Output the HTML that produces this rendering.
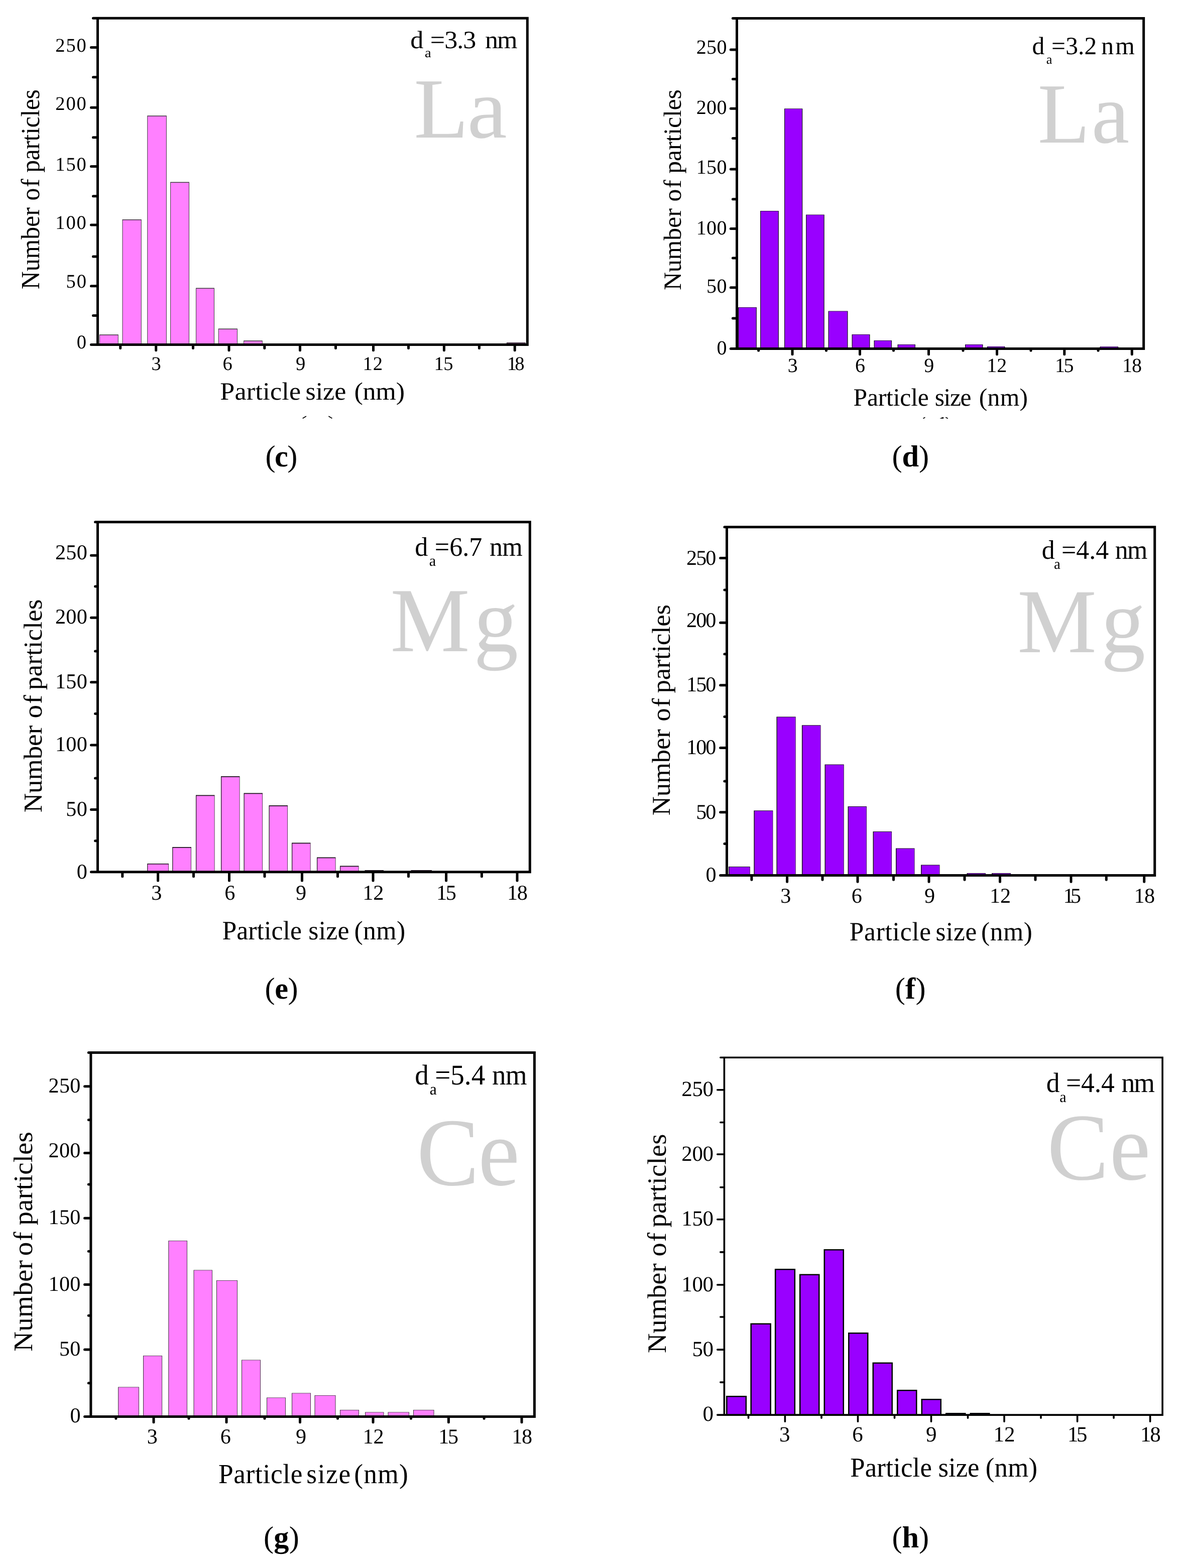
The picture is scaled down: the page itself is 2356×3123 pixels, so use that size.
<!DOCTYPE html>
<html lang="en">
<head>
<meta charset="utf-8">
<title>Particle size distributions (c)-(h)</title>
<style>
html,body{margin:0;padding:0;background:#fff;}
body{width:2356px;height:3123px;overflow:hidden;position:relative;}
svg{position:absolute;left:0;top:0;display:block;font-family:"Liberation Serif", "DejaVu Serif", serif;text-rendering:geometricPrecision;}
.frame{fill:none;stroke:#000;stroke-linejoin:miter;}
.ticks{fill:none;stroke:#000;stroke-linecap:round;stroke-linejoin:miter;}
.ghost{fill:none;stroke:#000;stroke-linecap:butt;}
text{fill:#000;white-space:pre;}
.elem{fill:#d0d0d0;}
.b{font-weight:bold;}
</style>
</head>
<body>
<svg width="2356" height="3123" viewBox="0 0 2356 3123">
<rect x="0" y="0" width="2356" height="3123" fill="#fff"/>
<g id="chart-c">
<text class="elem" transform="translate(824.34 273.75) scale(1.0460 1)" font-size="170.6" letter-spacing="-2.8">La</text>
<path class="bar-edge" fill="#403840" d="M197.9 666.2H235.8V686.4H197.9ZM243.5 437H281.8V686.4H243.5ZM293.2 230.25H331.9V686.4H293.2ZM339.1 362.5H377V686.4H339.1ZM390 573.5H427V686.4H390ZM434.7 654.4H473V686.4H434.7ZM485.1 678.2H522.8V686.4H485.1ZM1008.8 682.1H1046.6V686.4H1008.8Z"/>
<path class="bar-fill" fill="#ff80ff" d="M198.9 667.8H234.8V686.4H198.9ZM244.5 438.6H280.8V686.4H244.5ZM294.2 231.85H330.9V686.4H294.2ZM340.1 364.1H376V686.4H340.1ZM391 575.1H426V686.4H391ZM435.7 656H472V686.4H435.7ZM486.1 679.8H521.8V686.4H486.1ZM1009.8 683.7H1045.6V686.4H1009.8Z"/>
<path class="ticks" d="M185.5 36.3H1050.3V686.4H181.5" stroke-width="5"/>
<path class="frame" d="M194.5 36.3V686.4" stroke-width="5"/>
<path class="ticks" d="M181.5 569.8H192M181.5 448H192M181.5 331.5H192M181.5 214.3H192M181.5 94.5H192M185.5 628.5H192M185.5 511.1H192M185.5 390.75H192M185.5 273.8H192M185.5 153.7H192M310.7 688.9V697.8M456 688.9V697.8M597.5 688.9V697.8M743.5 688.9V697.8M884.4 688.9V697.8M1025.2 688.9V697.8M239.7 688.9V693.6M384.5 688.9V693.6M526.8 688.9V693.6M668.5 688.9V693.6M813.5 688.9V693.6M954.4 688.9V693.6" stroke-width="5"/>
<text x="152.65" y="693.7" font-size="38.6">0</text>
<text x="131.5" y="573.4" font-size="38.6" letter-spacing="1.85">50</text>
<text x="110.35" y="456.4" font-size="38.6" letter-spacing="1.85">100</text>
<text x="110.35" y="339.6" font-size="38.6" letter-spacing="1.85">150</text>
<text x="110.35" y="219.3" font-size="38.6" letter-spacing="1.85">200</text>
<text x="110.35" y="102.6" font-size="38.6" letter-spacing="1.85">250</text>
<text x="301.56" y="736.5" font-size="38.6">3</text>
<text x="443.51" y="736.5" font-size="38.6">6</text>
<text x="588.99" y="736.5" font-size="38.6">9</text>
<text x="722.62" y="736.5" font-size="38.6" letter-spacing="0.9">12</text>
<text x="864.62" y="736.5" font-size="38.6" letter-spacing="-0.68">15</text>
<text x="1009.82" y="736.5" font-size="38.6" letter-spacing="-3.77">18</text>
<text transform="scale(1.0460 1)" y="795.8" font-size="49.8"><tspan x="418.9" letter-spacing="0.26">Particle</tspan> <tspan x="581.66" letter-spacing="-0.03">size</tspan> <tspan x="674.37" letter-spacing="-0.21">(nm)</tspan></text>
<text transform="translate(78.2 0) scale(1.0460 1) rotate(-90)" y="0" font-size="49.8"><tspan x="-576.17" letter-spacing="-0.06">Number</tspan> <tspan x="-399.57" letter-spacing="2">of</tspan> <tspan x="-343.75" letter-spacing="-0.37">particles</tspan></text>
<text transform="scale(1.0460 1)" y="95.8" font-size="49.8"><tspan x="781.24" y="95.8">d</tspan><tspan x="808.7" y="113.6" font-size="27.3">a</tspan><tspan x="819.02" y="95.8" letter-spacing="-0.88">=3.3</tspan> <tspan x="923.45" y="95.8" letter-spacing="-1.81">nm</tspan></text>
</g>
<g id="chart-d">
<text class="elem" transform="translate(2066.83 283.75) scale(0.9950 1)" font-size="170.6" letter-spacing="3.15">La</text>
<path class="bar-edge" fill="#141018" d="M1470.1 612H1506.9V694.6H1470.1ZM1514.1 420H1550.9V694.6H1514.1ZM1562 216.25H1598.3V694.6H1562ZM1605.1 427.5H1641.75V694.6H1605.1ZM1649.5 619.5H1688.5V694.6H1649.5ZM1696.5 666H1732.5V694.6H1696.5ZM1740.5 678H1776V694.6H1740.5ZM1787.5 686H1823V694.6H1787.5ZM1922 686H1957.5V694.6H1922ZM1966 690H2001.5V694.6H1966ZM2190.4 690.2H2227.2V694.6H2190.4Z"/>
<path class="bar-fill" fill="#9900ff" d="M1471.3 612.8H1505.7V694.6H1471.3ZM1515.3 420.8H1549.7V694.6H1515.3ZM1563.2 217.05H1597.1V694.6H1563.2ZM1606.3 428.3H1640.55V694.6H1606.3ZM1650.7 620.3H1687.3V694.6H1650.7ZM1697.7 666.8H1731.3V694.6H1697.7ZM1741.7 678.8H1774.8V694.6H1741.7ZM1788.7 686.8H1821.8V694.6H1788.7ZM1923.2 686.8H1956.3V694.6H1923.2ZM1967.2 690.8H2000.3V694.6H1967.2ZM2191.6 691H2226V694.6H2191.6Z"/>
<path class="ticks" d="M1459.4 36.4H2277.65V694.6H1455.3" stroke-width="5"/>
<path class="frame" d="M1467.5 36.4V694.6" stroke-width="5"/>
<path class="ticks" d="M1455.3 572.8H1465M1455.3 455.4H1465M1455.3 337H1465M1455.3 216.3H1465M1455.3 98.9H1465M1459.4 634H1465M1459.4 514.1H1465M1459.4 396.7H1465M1459.4 275.4H1465M1459.4 157.5H1465M1578.05 697.1V705.8M1712.5 697.1V705.8M1849.5 697.1V705.8M1985.5 697.1V705.8M2119.8 697.1V705.8M2254.3 697.1V705.8M1510.65 697.1V698.2M1645.5 697.1V698.2M1779.5 697.1V698.2M1918 697.1V698.2M2053 697.1V698.2M2187.1 697.1V698.2" stroke-width="5"/>
<text x="1427.4" y="705.7" font-size="40">0</text>
<text x="1407.05" y="583.3" font-size="40" letter-spacing="0.35">50</text>
<text x="1386.7" y="466.9" font-size="40" letter-spacing="0.35">100</text>
<text x="1386.7" y="345.6" font-size="40" letter-spacing="0.35">150</text>
<text x="1386.7" y="227.2" font-size="40" letter-spacing="0.35">200</text>
<text x="1386.7" y="106.6" font-size="40" letter-spacing="0.35">250</text>
<text x="1568.85" y="741.1" font-size="40">3</text>
<text x="1703.05" y="741.1" font-size="40">6</text>
<text x="1840.15" y="741.1" font-size="40">9</text>
<text x="1965.35" y="741.1" font-size="40">12</text>
<text x="2100.9" y="741.1" font-size="40" letter-spacing="-2.3">15</text>
<text x="2235.1" y="741.1" font-size="40" letter-spacing="-1.2">18</text>
<text transform="scale(0.9950 1)" y="807.8" font-size="49.8"><tspan x="1708.08" letter-spacing="-0.16">Particle</tspan> <tspan x="1871.07" letter-spacing="-1.39">size</tspan> <tspan x="1959.49" letter-spacing="0.35">(nm)</tspan></text>
<text transform="translate(1356.2 0) scale(0.9950 1) rotate(-90)" y="0" font-size="49.8"><tspan x="-578.12" letter-spacing="-0.07">Number</tspan> <tspan x="-401.57" letter-spacing="2">of</tspan> <tspan x="-345.75" letter-spacing="-0.12">particles</tspan></text>
<text transform="scale(0.9950 1)" y="107.6" font-size="49.8"><tspan x="2065.79" y="107.6">d</tspan><tspan x="2094.15" y="126.8" font-size="26.5">a</tspan><tspan x="2104.65" y="107.6" letter-spacing="0.09">=3.2</tspan> <tspan x="2204.21" y="107.6" letter-spacing="3.27">nm</tspan></text>
</g>
<g id="chart-e">
<text class="elem" transform="translate(777.61 1297) scale(0.9750 1)" font-size="182.4" letter-spacing="7.69">Mg</text>
<path class="bar-edge" fill="#1c141c" d="M293.2 1719.9H336V1736.8H293.2ZM343.2 1687H381V1736.8H343.2ZM390 1583.5H427.5V1736.8H390ZM440 1546H477.5V1736.8H440ZM485.5 1579.5H523V1736.8H485.5ZM535.5 1604H573V1736.8H535.5ZM581 1678.5H618.5V1736.8H581ZM631 1707.5H668.5V1736.8H631ZM677 1724.5H714.5V1736.8H677ZM726.5 1733H764V1736.8H726.5ZM818.5 1733H860V1736.8H818.5Z"/>
<path class="bar-fill" fill="#ff80ff" d="M294.4 1721.6H335.3V1736.8H294.4ZM344.4 1688.7H380.3V1736.8H344.4ZM391.2 1585.2H426.8V1736.8H391.2ZM441.2 1547.7H476.8V1736.8H441.2ZM486.7 1581.2H522.3V1736.8H486.7ZM536.7 1605.7H572.3V1736.8H536.7ZM582.2 1680.2H617.8V1736.8H582.2ZM632.2 1709.2H667.8V1736.8H632.2ZM678.2 1726.2H713.8V1736.8H678.2ZM727.7 1734.7H763.3V1736.8H727.7ZM819.7 1734.7H859.3V1736.8H819.7Z"/>
<path class="ticks" d="M189.6 1039.65H1055.3V1736.8H181.5" stroke-width="5"/>
<path class="frame" d="M194.5 1039.65V1736.8" stroke-width="5"/>
<path class="ticks" d="M181.5 1612.5H192M181.5 1484H192M181.5 1358.8H192M181.5 1230.3H192M181.5 1106.35H192M189.6 1674.8H192M189.6 1550.1H192M189.6 1421.6H192M189.6 1296.9H192M189.6 1168H192M314.6 1739.3V1754M456.5 1739.3V1754M601.5 1739.3V1754M743 1739.3V1754M888.6 1739.3V1754M1030 1739.3V1754M243.8 1739.3V1745.8M385.5 1739.3V1745.8M527 1739.3V1745.8M672.5 1739.3V1745.8M813.5 1739.3V1745.8M959.4 1739.3V1745.8" stroke-width="5"/>
<text x="152.64" y="1750.2" font-size="42.3">0</text>
<text x="131.29" y="1624.6" font-size="42.3" letter-spacing="0.2">50</text>
<text x="109.94" y="1495.7" font-size="42.3" letter-spacing="0.2">100</text>
<text x="109.94" y="1370.5" font-size="42.3" letter-spacing="0.2">150</text>
<text x="109.94" y="1242" font-size="42.3" letter-spacing="0.2">200</text>
<text x="109.94" y="1114" font-size="42.3" letter-spacing="0.2">250</text>
<text x="301.17" y="1792.1" font-size="42.3">3</text>
<text x="447.16" y="1792.1" font-size="42.3">6</text>
<text x="589.08" y="1792.1" font-size="42.3">9</text>
<text x="722.16" y="1792.1" font-size="42.3">12</text>
<text x="868.9" y="1792.1" font-size="42.3" letter-spacing="-2.31">15</text>
<text x="1010.05" y="1792.1" font-size="42.3" letter-spacing="-1.41">18</text>
<text transform="scale(0.9750 1)" y="1871.1" font-size="53.1"><tspan x="453.82" letter-spacing="0.05">Particle</tspan> <tspan x="629.98" letter-spacing="0.3">size</tspan> <tspan x="723.49" letter-spacing="0.42">(nm)</tspan></text>
<text transform="translate(82.55 0) scale(0.9750 1) rotate(-90)" y="0" font-size="53.1"><tspan x="-1618.16" letter-spacing="-0.12">Number</tspan> <tspan x="-1430.49" letter-spacing="2">of</tspan> <tspan x="-1374.2" letter-spacing="0.09">particles</tspan></text>
<text transform="scale(0.9750 1)" y="1106.6" font-size="53.4"><tspan x="847.36" y="1106.6">d</tspan><tspan x="876.56" y="1127.4" font-size="31">a</tspan><tspan x="888" y="1106.6" letter-spacing="0.05">=6.7</tspan> <tspan x="1000.13" y="1106.6" letter-spacing="-0.99">nm</tspan></text>
</g>
<g id="chart-f">
<text class="elem" transform="translate(2026.13 1298.75) scale(0.9740 1)" font-size="182" letter-spacing="9">Mg</text>
<path class="bar-edge" fill="#1a141e" d="M1451 1726.1H1493.8V1743.55H1451ZM1501.3 1614.25H1539.4V1743.55H1501.3ZM1546.4 1427.5H1584.7V1743.55H1546.4ZM1596.9 1444.25H1634.5V1743.55H1596.9ZM1642.5 1522.5H1680.75V1743.55H1642.5ZM1688.5 1606H1726V1743.55H1688.5ZM1738.5 1656H1776V1743.55H1738.5ZM1784 1689.5H1821.5V1743.55H1784ZM1834 1722.5H1871.5V1743.55H1834ZM1925.5 1739H1963V1743.55H1925.5ZM1975 1739H2013V1743.55H1975Z"/>
<path class="bar-fill" fill="#9900ff" d="M1452.5 1727H1493.1V1743.55H1452.5ZM1502.8 1615.15H1538.7V1743.55H1502.8ZM1547.9 1428.4H1584V1743.55H1547.9ZM1598.4 1445.15H1633.8V1743.55H1598.4ZM1644 1523.4H1680.05V1743.55H1644ZM1690 1606.9H1725.3V1743.55H1690ZM1740 1656.9H1775.3V1743.55H1740ZM1785.5 1690.4H1820.8V1743.55H1785.5ZM1835.5 1723.4H1870.8V1743.55H1835.5ZM1927 1739.9H1962.3V1743.55H1927ZM1976.5 1739.9H2012.3V1743.55H1976.5Z"/>
<path class="ticks" d="M1442.9 1049.65H2299.7V1743.55H1434.6" stroke-width="5"/>
<path class="frame" d="M1447.5 1049.65V1743.55" stroke-width="5"/>
<path class="ticks" d="M1434.6 1617.7H1445M1434.6 1489.4H1445M1434.6 1364.7H1445M1434.6 1240.3H1445M1434.6 1111.6H1445M1442.9 1680.6H1445M1442.9 1556H1445M1442.9 1427.5H1445M1442.9 1302.7H1445M1442.9 1175H1445M1567.6 1746.05V1756.35M1708 1746.05V1756.35M1850 1746.05V1756.35M1991.5 1746.05V1756.35M2133 1746.05V1756.35M2278.7 1746.05V1756.35M1496.9 1746.05V1752.2M1638 1746.05V1752.2M1779.5 1746.05V1752.2M1921 1746.05V1752.2M2062 1746.05V1752.2M2203.3 1746.05V1752.2" stroke-width="5"/>
<text x="1405.38" y="1756.4" font-size="42.2">0</text>
<text x="1386.18" y="1630.8" font-size="42.2" letter-spacing="-1.9">50</text>
<text x="1366.98" y="1502.3" font-size="42.2" letter-spacing="-1.9">100</text>
<text x="1366.98" y="1377.1" font-size="42.2" letter-spacing="-1.9">150</text>
<text x="1366.98" y="1249.3" font-size="42.2" letter-spacing="-1.9">200</text>
<text x="1366.98" y="1124.5" font-size="42.2" letter-spacing="-1.9">250</text>
<text x="1554.29" y="1798" font-size="42.2">3</text>
<text x="1695.69" y="1798" font-size="42.2">6</text>
<text x="1841.11" y="1798" font-size="42.2">9</text>
<text x="1970.96" y="1798" font-size="42.2">12</text>
<text x="2117.41" y="1798" font-size="42.2" letter-spacing="-6.42">15</text>
<text x="2258.51" y="1798" font-size="42.2" letter-spacing="-0.62">18</text>
<text transform="scale(0.9740 1)" y="1872.8" font-size="52.7"><tspan x="1736.85" letter-spacing="0.84">Particle</tspan> <tspan x="1913.19" letter-spacing="0.7">size</tspan> <tspan x="2006.28" letter-spacing="0.7">(nm)</tspan></text>
<text transform="translate(1334.4 0) scale(0.9740 1) rotate(-90)" y="0" font-size="52.7"><tspan x="-1624.35" letter-spacing="-0.08">Number</tspan> <tspan x="-1436.68" letter-spacing="2">of</tspan> <tspan x="-1380.39" letter-spacing="-0.27">particles</tspan></text>
<text transform="scale(0.9740 1)" y="1112.7" font-size="53.2"><tspan x="2130.07" y="1112.7">d</tspan><tspan x="2155.12" y="1133.1" font-size="29.6">a</tspan><tspan x="2170.44" y="1112.7" letter-spacing="0.08">=4.4</tspan> <tspan x="2279.91" y="1112.7" letter-spacing="-1.7">nm</tspan></text>
</g>
<g id="chart-g">
<text class="elem" transform="translate(830.05 2359.6) scale(0.9700 1)" font-size="192.1" letter-spacing="-2.14">Ce</text>
<path class="bar-edge" fill="#383038" d="M235.1 2762.5H276.95V2821.45H235.1ZM285 2700H323.1V2821.45H285ZM335.3 2471H373V2821.45H335.3ZM385.5 2529.5H423V2821.45H385.5ZM431 2550H473V2821.45H431ZM481 2708.5H519V2821.45H481ZM531 2783.5H569V2821.45H531ZM581 2774.5H619V2821.45H581ZM626.5 2779H668.5V2821.45H626.5ZM677 2808H715V2821.45H677ZM727 2812.5H764.5V2821.45H727ZM772.5 2812.5H815V2821.45H772.5ZM823 2808H864.5V2821.45H823Z"/>
<path class="bar-fill" fill="#ff80ff" d="M236.1 2763.3H276.05V2821.45H236.1ZM286 2700.8H322.2V2821.45H286ZM336.3 2471.8H372.1V2821.45H336.3ZM386.5 2530.3H422.1V2821.45H386.5ZM432 2550.8H472.1V2821.45H432ZM482 2709.3H518.1V2821.45H482ZM532 2784.3H568.1V2821.45H532ZM582 2775.3H618.1V2821.45H582ZM627.5 2779.8H667.6V2821.45H627.5ZM678 2808.8H714.1V2821.45H678ZM728 2813.3H763.6V2821.45H728ZM773.5 2813.3H814.1V2821.45H773.5ZM824 2808.8H863.6V2821.45H824Z"/>
<path class="ticks" d="M176.35 2096.6H1064.4V2821.45H168.6" stroke-width="5"/>
<path class="frame" d="M180.9 2096.6V2821.45" stroke-width="5"/>
<path class="ticks" d="M168.6 2688.1H178.4M168.6 2558.6H178.4M168.6 2426.2H178.4M168.6 2296.4H178.4M168.6 2163.65H178.4M176.35 2754.7H178.4M176.35 2620.2H178.4M176.35 2492.2H178.4M176.35 2358.9H178.4M176.35 2230.4H178.4M306 2823.95V2832.85M451 2823.95V2832.85M597.5 2823.95V2832.85M743 2823.95V2832.85M893.4 2823.95V2832.85M1039 2823.95V2832.85M230.9 2823.95V2825.25M376 2823.95V2825.25M527 2823.95V2825.25M672.5 2823.95V2825.25M818.5 2823.95V2825.25M964.1 2823.95V2825.25" stroke-width="5"/>
<text x="139.38" y="2833.1" font-size="42.2">0</text>
<text x="117.95" y="2699.7" font-size="42.2" letter-spacing="0.33">50</text>
<text x="96.52" y="2571.2" font-size="42.2" letter-spacing="0.33">100</text>
<text x="96.52" y="2437.5" font-size="42.2" letter-spacing="0.33">150</text>
<text x="96.52" y="2304.7" font-size="42.2" letter-spacing="0.33">200</text>
<text x="96.52" y="2175.8" font-size="42.2" letter-spacing="0.33">250</text>
<text x="292.69" y="2875.2" font-size="42.2">3</text>
<text x="438.69" y="2875.2" font-size="42.2">6</text>
<text x="589.11" y="2875.2" font-size="42.2">9</text>
<text x="722.46" y="2875.2" font-size="42.2">12</text>
<text x="873.21" y="2875.2" font-size="42.2" letter-spacing="-2.22">15</text>
<text x="1019.21" y="2875.2" font-size="42.2" letter-spacing="-1.33">18</text>
<text transform="scale(0.9700 1)" y="2953.5" font-size="55"><tspan x="448.38" letter-spacing="0.68">Particle</tspan> <tspan x="629.24" letter-spacing="1.66">size</tspan> <tspan x="727.15" letter-spacing="1.31">(nm)</tspan></text>
<text transform="translate(64.45 0) scale(0.9700 1) rotate(-90)" y="0" font-size="55"><tspan x="-2691.81" letter-spacing="0.35">Number</tspan> <tspan x="-2501.36" letter-spacing="2">of</tspan> <tspan x="-2440.52">particles</tspan></text>
<text transform="scale(0.9700 1)" y="2159.85" font-size="56.8"><tspan x="851.83" y="2159.85">d</tspan><tspan x="882.26" y="2180.3" font-size="32.5">a</tspan><tspan x="892.93" y="2159.85" letter-spacing="0.06">=5.4</tspan> <tspan x="1010.37" y="2159.85" letter-spacing="-0.95">nm</tspan></text>
</g>
<g id="chart-h">
<text class="elem" transform="translate(2085.4 2349.3) scale(0.9670 1)" font-size="190" letter-spacing="1.94">Ce</text>
<path class="bar-edge" fill="#000" d="M1446 2780H1487.1V2818.1H1446ZM1494.4 2635.5H1535.9V2818.1H1494.4ZM1542.9 2527H1584.1V2818.1H1542.9ZM1591.9 2537.5H1632.5V2818.1H1591.9ZM1640.5 2488H1681V2818.1H1640.5ZM1689 2654H1729.5V2818.1H1689ZM1737.5 2713.5H1778V2818.1H1737.5ZM1786 2768H1826.5V2818.1H1786ZM1834.5 2786H1875V2818.1H1834.5ZM1883 2814H1923.5V2818.1H1883ZM1931.5 2814H1971.5V2818.1H1931.5Z"/>
<path class="bar-fill" fill="#9900ff" d="M1448.6 2782.5H1484.6V2818.1H1448.6ZM1497 2638H1533.4V2818.1H1497ZM1545.5 2529.5H1581.6V2818.1H1545.5ZM1594.5 2540H1630V2818.1H1594.5ZM1643.1 2490.5H1678.5V2818.1H1643.1ZM1691.6 2656.5H1727V2818.1H1691.6ZM1740.1 2716H1775.5V2818.1H1740.1ZM1788.6 2770.5H1824V2818.1H1788.6ZM1837.1 2788.5H1872.5V2818.1H1837.1ZM1885.6 2816.5H1921V2818.1H1885.6ZM1934.1 2816.5H1969V2818.1H1934.1Z"/>
<path class="ticks" d="M1434.8 2106.3H2315.1V2818.1H1428.75" stroke-width="3.6"/>
<path class="frame" d="M1442.4 2106.3V2818.1" stroke-width="3.6"/>
<path class="ticks" d="M1428.75 2688.1H1440.6M1428.75 2559H1440.6M1428.75 2428.8H1440.6M1428.75 2299H1440.6M1428.75 2170.8H1440.6M1434.8 2753.1H1440.6M1434.8 2623H1440.6M1434.8 2493.9H1440.6M1434.8 2364.8H1440.6M1434.8 2235.5H1440.6M1563.4 2819.9V2831.15M1708.5 2819.9V2831.15M1854.5 2819.9V2831.15M2000 2819.9V2831.15M2145.6 2819.9V2831.15M2290.6 2819.9V2831.15M1490.5 2819.9V2824.2M1636 2819.9V2824.2M1781.5 2819.9V2824.2M1927.5 2819.9V2824.2M2073 2819.9V2824.2M2218 2819.9V2824.2" stroke-width="3.6"/>
<text x="1399.51" y="2830" font-size="43">0</text>
<text x="1378.41" y="2700.8" font-size="43" letter-spacing="-0.4">50</text>
<text x="1357.31" y="2571.6" font-size="43" letter-spacing="-0.4">100</text>
<text x="1357.31" y="2441.4" font-size="43" letter-spacing="-0.4">150</text>
<text x="1357.31" y="2312.3" font-size="43" letter-spacing="-0.4">200</text>
<text x="1357.31" y="2182.8" font-size="43" letter-spacing="-0.4">250</text>
<text x="1551.99" y="2870.85" font-size="43">3</text>
<text x="1697.23" y="2870.85" font-size="43">6</text>
<text x="1843.91" y="2870.85" font-size="43">9</text>
<text x="1978.55" y="2870.85" font-size="43">12</text>
<text x="2126.06" y="2870.85" font-size="43" letter-spacing="-3.57">15</text>
<text x="2270.99" y="2870.85" font-size="43" letter-spacing="-2.12">18</text>
<text transform="scale(0.9670 1)" y="2941.1" font-size="54.6"><tspan x="1750.93" letter-spacing="0.22">Particle</tspan> <tspan x="1932.15" letter-spacing="0.02">size</tspan> <tspan x="2029.84" letter-spacing="0.18">(nm)</tspan></text>
<text transform="translate(1326.2 0) scale(0.9670 1) rotate(-90)" y="0" font-size="54.6"><tspan x="-2695.1" letter-spacing="-0.03">Number</tspan> <tspan x="-2502.45" letter-spacing="2">of</tspan> <tspan x="-2444.82" letter-spacing="0.16">particles</tspan></text>
<text transform="scale(0.9670 1)" y="2175.15" font-size="55.4"><tspan x="2154.94" y="2175.15">d</tspan><tspan x="2182.16" y="2195.3" font-size="31">a</tspan><tspan x="2195.47" y="2175.15" letter-spacing="-0.16">=4.4</tspan> <tspan x="2309.82" y="2175.15" letter-spacing="-2.1">nm</tspan></text>
</g>
<path class="ghost" d="M602.7 833.3L609.9 829.1M654.4 829.1L661.4 833.3M1838.5 833.4L1842.4 831.3M1883.3 831.3L1887.8 833.4" stroke-width="1.7"/>
<path fill="#000" d="M1871.6 833.8L1875.5 831.6L1878.6 830.8L1879.2 831L1879.2 833.8Z"/>
<text x="528.43" y="929.2" font-size="60.4" letter-spacing="-1.54">(<tspan class="b">c</tspan>)</text>
<text x="1776.53" y="929" font-size="60.4" letter-spacing="-0.18">(<tspan class="b">d</tspan>)</text>
<text x="527.43" y="1989.2" font-size="60.4" letter-spacing="-0.39">(<tspan class="b">e</tspan>)</text>
<text x="1782.63" y="1989.1" font-size="60.4" letter-spacing="0.36">(<tspan class="b">f</tspan>)</text>
<text x="525.03" y="3082.1" font-size="60.4" letter-spacing="0.17">(<tspan class="b">g</tspan>)</text>
<text x="1776.53" y="3082" font-size="60.4" letter-spacing="-0.18">(<tspan class="b">h</tspan>)</text>
</svg>
</body>
</html>
